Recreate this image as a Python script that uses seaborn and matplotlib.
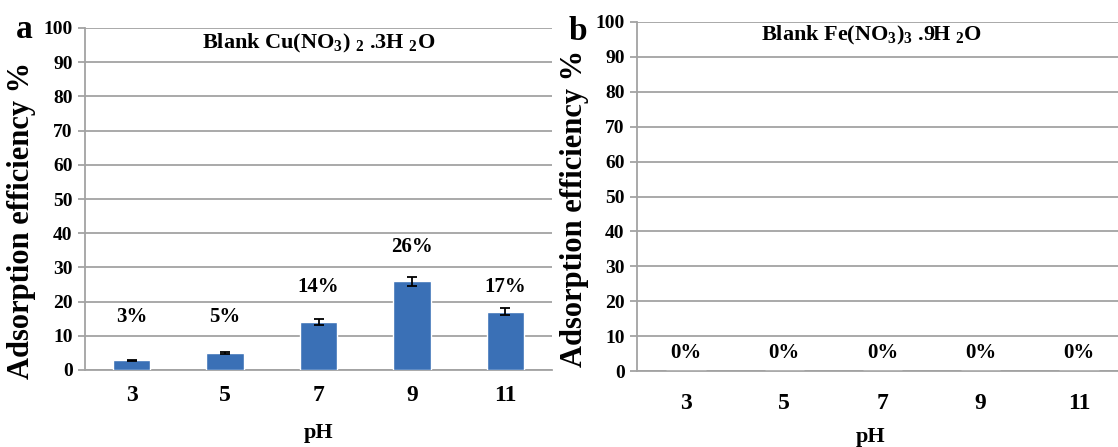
import numpy as np
import pandas as pd
import matplotlib
matplotlib.use("Agg")
import matplotlib.pyplot as plt
import seaborn as sns

# ---- data ----
ph_labels = ["3", "5", "7", "9", "11"]
cu_values = [2.8, 5.0, 14.0, 26.0, 17.0]
cu_errors = [0.2, 0.2, 0.8, 1.3, 1.0]
cu_text = ["3%", "5%", "14%", "26%", "17%"]
fe_values = [0.0, 0.0, 0.0, 0.0, 0.0]
fe_text = ["0%", "0%", "0%", "0%", "0%"]
y_ticks = [0, 10, 20, 30, 40, 50, 60, 70, 80, 90, 100]

# layout of the value labels (label heights in data units)
cu_label_y = [15.6, 15.6, 24.4, 35.9, 24.4]
fe_label_y = [5.2, 5.2, 5.2, 5.2, 5.2]

sns.set_style("white")
plt.rcParams["font.family"] = ["Liberation Serif", "DejaVu Serif"]
plt.rcParams["font.weight"] = "bold"
plt.rcParams["mathtext.fontset"] = "custom"
plt.rcParams["mathtext.rm"] = "Liberation Serif:bold"
plt.rcParams["mathtext.it"] = "Liberation Serif:bold"
plt.rcParams["mathtext.bf"] = "Liberation Serif:bold"
plt.rcParams["mathtext.default"] = "rm"
for k in ("text.color", "axes.labelcolor", "xtick.color", "ytick.color"):
    plt.rcParams[k] = "black"

BAR = "#3a70b6"
GRID = "#a3a3a3"

fig = plt.figure(figsize=(11.18, 4.47), dpi=100)
W, H = 1118, 447
axL = fig.add_axes([85 / W, 1 - 370 / H, (552 - 85) / W, (370 - 28) / H])
axR = fig.add_axes([637 / W, 1 - 371 / H, (1128 - 637) / W, (371 - 22) / H])

df_cu = pd.DataFrame({"pH": ph_labels, "eff": cu_values})
df_fe = pd.DataFrame({"pH": ph_labels, "eff": fe_values})

sns.barplot(data=df_cu, x="pH", y="eff", ax=axL, color=BAR, width=0.4,
            saturation=1, errorbar=None, zorder=3)
sns.barplot(data=df_fe, x="pH", y="eff", ax=axR, color=BAR, width=0.4,
            saturation=1, errorbar=None, zorder=3)

# error bars at the bar centres
centers = [p.get_x() + p.get_width() / 2 for p in axL.patches]
axL.errorbar(centers, cu_values, yerr=cu_errors, fmt="none", ecolor="black",
             elinewidth=1.3, capsize=3.5, capthick=1.3, zorder=4)

for ax, texts, ly in [(axL, cu_text, cu_label_y), (axR, fe_text, fe_label_y)]:
    for i, (t, y) in enumerate(zip(texts, ly)):
        ax.text(i, y, t, ha="center", va="center", fontsize=15,
                fontweight="bold", color="black")

for ax in (axL, axR):
    ax.set_ylim(0, 100)
    ax.set_xlim(-0.5, 4.5)
    ax.set_yticks(y_ticks)
    ax.yaxis.grid(True, color=GRID, linewidth=1.3, zorder=0)
    ax.set_axisbelow(True)
    for s in ("top", "right"):
        ax.spines[s].set_visible(False)
    for s in ("left", "bottom"):
        ax.spines[s].set_color(GRID)
        ax.spines[s].set_linewidth(1.3)
    ax.tick_params(axis="y", length=5, width=1.3, color=GRID, labelcolor="black",
                   labelsize=14, pad=4, left=True)
    ax.tick_params(axis="x", length=0, labelsize=17, labelcolor="black", pad=11)
    ax.set_xlabel("pH", fontsize=16, fontweight="bold")
    ax.set_ylabel("Adsorption efficiency %", fontsize=22, fontweight="bold")
    for lab in ax.get_xticklabels() + ax.get_yticklabels():
        lab.set_fontweight("bold")

axL.set_xticks([-0.5], minor=True)
axL.tick_params(axis="x", which="minor", length=6, width=1.3, color=GRID)
axR.set_xticks([-0.5, 0.5, 1.5, 2.5, 3.5], minor=True)
axR.tick_params(axis="x", which="minor", length=5, width=1.3, color=GRID)
axR.tick_params(axis="x", which="major", pad=16)

axL.xaxis.set_label_coords(0.5, -0.155)
axR.xaxis.set_label_coords(0.476, -0.16)
axL.yaxis.set_label_coords(-0.105, 0.436)
axR.yaxis.set_label_coords(-0.097, 0.467)

axL.text(0.5, 0.955, "Blank Cu(NO$_3$) $_2$ .3H $_2$O", transform=axL.transAxes,
         ha="center", va="center", fontsize=16, fontweight="bold")
axR.text(0.477, 0.96, "Blank Fe(NO$_3$)$_3$ .9H $_2$O", transform=axR.transAxes,
         ha="center", va="center", fontsize=16, fontweight="bold")

fig.text(24 / W, 1 - 30 / H, "a", fontsize=24, fontweight="bold",
         ha="center", va="center")
fig.text(578 / W, 1 - 31 / H, "b", fontsize=24, fontweight="bold",
         ha="center", va="center")

fig.savefig("out.png", dpi=100)
